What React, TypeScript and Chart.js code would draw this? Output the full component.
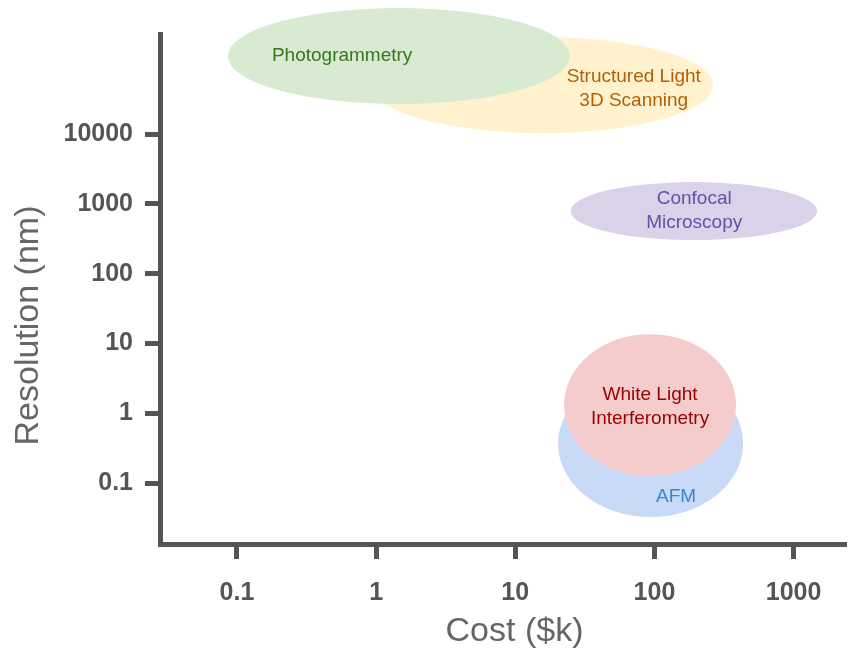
import React, { useEffect, useRef } from "react";
import { Chart, registerables } from "chart.js";

Chart.register(...registerables);

// Techniques, listed in drawing order (later ones are drawn on top)
const labelLines: string[][] = [
  ["Structured Light", "3D Scanning"],
  ["Photogrammetry"],
  ["Confocal", "Microscopy"],
  ["AFM"],
  ["White Light", "Interferometry"],
];
// Extent of each technique region (cost in $k, resolution in nm)
const costLow = [0.93, 0.086, 25, 20.3, 22.4];
const costHigh = [264, 24.7, 1476, 434, 386];
const resLow = [10300, 26900, 303, 0.0326, 0.126];
const resHigh = [245000, 638000, 2050, 4.16, 13.6];
// Label anchor points
const labelCost = [71, 0.57, 193, 143, 93];
const labelRes = [44200, 131000, 800, 0.063, 1.23];

const fillColors = ["#fff2cc", "#d9ead3", "#d9d2e9", "#c9daf8", "#f4cccc"];
const textColors = ["#b45f06", "#38761d", "#674ea7", "#3d85c6", "#990000"];

const costTicks = [0.1, 1, 10, 100, 1000];
const resTicks = [0.1, 1, 10, 100, 1000, 10000];
const costRange = [0.028, 2380];
const resRange = [0.0134, 271000];

const xTitle = "Cost ($k)";
const yTitle = "Resolution (nm)";

const FONT = "'Liberation Sans', Arial, Helvetica, sans-serif";
const AXIS = "#555555";
const TITLE = "#666666";

const ellipsePlugin = {
  id: "ellipses",
  beforeDatasetsDraw(chart: any) {
    const { ctx } = chart;
    const xs = chart.scales.x;
    const ys = chart.scales.y;
    ctx.save();
    for (let i = 0; i < labelLines.length; i++) {
      const x1 = xs.getPixelForValue(costLow[i]);
      const x2 = xs.getPixelForValue(costHigh[i]);
      const y1 = ys.getPixelForValue(resLow[i]);
      const y2 = ys.getPixelForValue(resHigh[i]);
      ctx.beginPath();
      ctx.ellipse(
        (x1 + x2) / 2,
        (y1 + y2) / 2,
        Math.abs(x2 - x1) / 2,
        Math.abs(y2 - y1) / 2,
        0,
        0,
        Math.PI * 2
      );
      ctx.fillStyle = fillColors[i];
      ctx.fill();
    }
    ctx.font = `19px ${FONT}`;
    ctx.textAlign = "center";
    ctx.textBaseline = "middle";
    const lh = 24;
    for (let i = 0; i < labelLines.length; i++) {
      const cx = xs.getPixelForValue(labelCost[i]);
      const cy = ys.getPixelForValue(labelRes[i]);
      const lines = labelLines[i];
      ctx.fillStyle = textColors[i];
      lines.forEach((t, k) => {
        ctx.fillText(t, cx, cy + (k - (lines.length - 1) / 2) * lh);
      });
    }
    ctx.restore();
  },
};

// Axis titles, placed relative to the figure like the reference
const titlePlugin = {
  id: "axisTitles",
  afterDraw(chart: any) {
    const { ctx, width, height } = chart;
    const xs = chart.scales.x;
    ctx.save();
    ctx.font = `34px ${FONT}`;
    ctx.fillStyle = TITLE;
    ctx.textAlign = "center";
    ctx.textBaseline = "middle";
    ctx.fillText(xTitle, (xs.left + xs.right) / 2 + 11.5, height - 19);
    ctx.translate(28.4, height / 2);
    ctx.rotate(-Math.PI / 2);
    ctx.fillText(yTitle, 0, 0);
    ctx.restore();
  },
};

export default function App() {
  const ref = useRef<HTMLCanvasElement | null>(null);
  useEffect(() => {
    if (!ref.current) return;
    const chart = new Chart(ref.current, {
      type: "scatter",
      data: {
        datasets: [
          {
            data: labelCost.map((c, i) => ({ x: c, y: labelRes[i] })),
            pointRadius: 0,
            pointHoverRadius: 0,
          },
        ],
      },
      options: {
        responsive: false,
        animation: false,
        events: [],
        layout: { padding: { top: 34, right: 2, left: 0, bottom: 0 } },
        plugins: { legend: { display: false }, tooltip: { enabled: false } },
        scales: {
          x: {
            type: "logarithmic",
            position: "bottom",
            min: costRange[0],
            max: costRange[1],
            afterBuildTicks: (scale: any) => {
              scale.ticks = costTicks.map((v) => ({ value: v }));
            },
            afterFit: (scale: any) => {
              scale.height = 107;
            },
            ticks: {
              autoSkip: false,
              maxRotation: 0,
              padding: 19,
              color: AXIS,
              font: { family: FONT, size: 25, weight: "bold" },
              callback: (v: any) => String(v),
            },
            grid: {
              display: true,
              drawOnChartArea: false,
              drawTicks: true,
              tickLength: 15,
              tickWidth: 5,
              tickColor: AXIS,
            },
            border: { display: true, width: 5, color: AXIS },
            title: { display: false },
          },
          y: {
            type: "logarithmic",
            position: "left",
            min: resRange[0],
            max: resRange[1],
            afterBuildTicks: (scale: any) => {
              scale.ticks = resTicks.map((v) => ({ value: v }));
            },
            afterFit: (scale: any) => {
              scale.width = 160;
            },
            ticks: {
              autoSkip: false,
              padding: 12,
              color: AXIS,
              font: { family: FONT, size: 25, weight: "bold" },
              callback: (v: any) => String(v),
            },
            grid: {
              display: true,
              drawOnChartArea: false,
              drawTicks: true,
              tickLength: 15,
              tickWidth: 5,
              tickColor: AXIS,
            },
            border: { display: true, width: 5, color: AXIS },
            title: { display: false },
          },
        },
      } as any,
      plugins: [ellipsePlugin, titlePlugin],
    });
    return () => chart.destroy();
  }, []);
  return (
    <div style={{ position: "absolute", left: 0, top: 0, width: 848, height: 651, background: "#fff" }}>
      <canvas ref={ref} width={848} height={651} style={{ display: "block", width: 848, height: 651 }} />
    </div>
  );
}
